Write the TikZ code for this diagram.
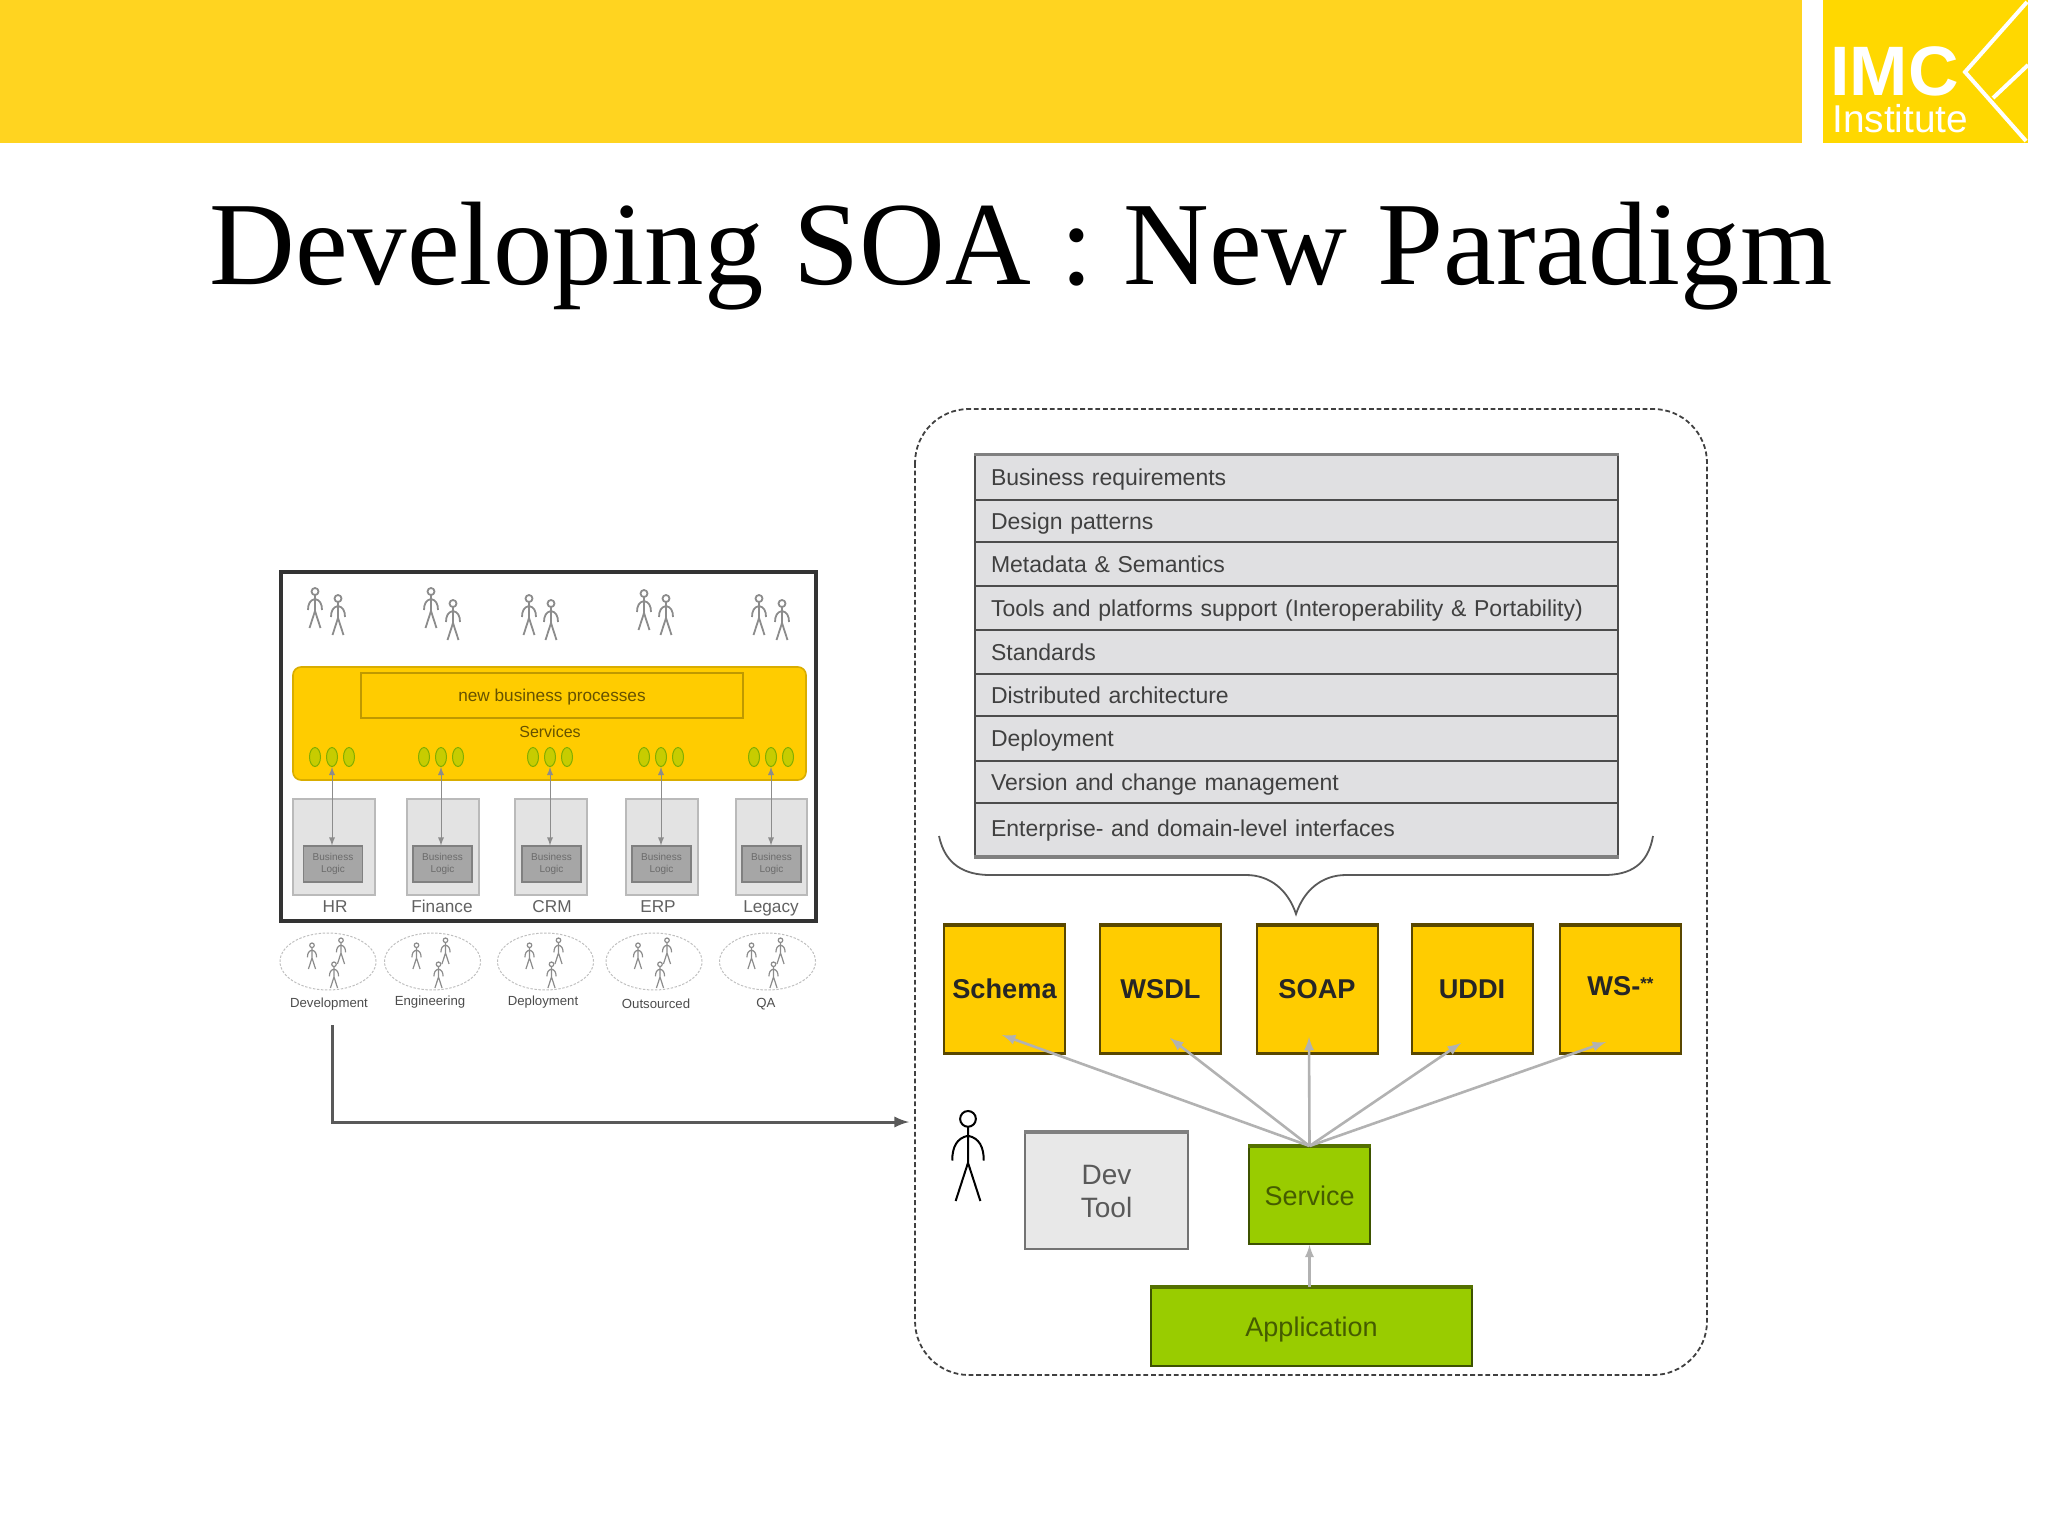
\documentclass[tikz,border=0pt]{standalone}
\usepackage{fontspec}
\usepackage{tikz}
\usetikzlibrary{shapes.geometric, arrows}
\setmainfont{Liberation Sans}
\newfontfamily\titlefont{Liberation Serif}
\newcommand{\fsz}[1]{\fontsize{#1}{#1}\selectfont}
\definecolor{bannery}{HTML}{FFD420}
\definecolor{logoy}{HTML}{FFD800}
\definecolor{servy}{HTML}{FFCC00}
\definecolor{appg}{HTML}{99CC00}
\definecolor{rowgray}{HTML}{E0E0E2}
\tikzset{
  box/.style={draw,rectangle,inner sep=0pt},
  wsbox/.style={box,fill=servy,draw=black!65!servy,line width=1pt,minimum width=60.5pt,minimum height=63.5pt,font=\fsz{13.6}\bfseries,text=black!85},
  greenbox/.style={box,fill=appg,draw=black!60!appg,line width=1pt,font=\fsz{13.5},text=black!55!appg},
  rowbox/.style={box,fill=rowgray,draw=black!70,line width=.9pt,minimum width=321.5pt,text width=305.5pt,inner xsep=8pt,align=left,font=\fsz{11.5},text=black!75},
  sysbox/.style={box,fill=black!11,draw=black!27,line width=.8pt,minimum height=48pt},
  logicbox/.style={box,fill=black!35,draw=black!50,line width=.6pt,minimum width=29.5pt,minimum height=18pt,align=center,font=\fsz{5},text=black!58},
  oval/.style={draw=appg!85!black,fill=appg!55!servy,ellipse,inner sep=0pt,line width=.5pt,minimum width=5.5pt,minimum height=9.5pt},
  teamoval/.style={draw=black!25,ellipse,dashed,dash pattern=on 1.2pt off .8pt,line width=.5pt,inner sep=0pt,minimum width=48pt,minimum height=28.5pt},
  sysname/.style={anchor=base,inner sep=0pt,font=\fsz{8.6},text=black!62},
  teamname/.style={inner sep=0pt,font=\fsz{6.6},text=black!70},
  stickman/.pic={
    \draw (0,3.5) circle (3.5);
    \draw (0,7) -- (0,23) (-7,22) .. controls (-7,16) and (-5,12) .. (0,11) .. controls (5,12) and (7,16) .. (7,22) (-5.5,40) -- (0,23) -- (5.5,40);
  }
}
\begin{document}
\begin{tikzpicture}[x=.5pt,y=-.5pt]
\useasboundingbox (0,0) rectangle (2048,1536);
     \fill[bannery] (0,0) rectangle (1802,143);
     \fill[logoy] (1823,0) rectangle (2028,143);
     \node[anchor=base west,inner sep=0pt,text=white,font=\fsz{35}\bfseries](imc)  at (1830,96) {IMC};
     \node[anchor=base west,inner sep=0pt,text=white,font=\fsz{19.4}](institute)  at (1832,133) {Institute};
     \draw[white,line width=2pt] (2027,2) -- (1965,72) -- (2026,141) (2028,65) -- (1993,98);
     \node[anchor=base,inner sep=0pt,font=\titlefont\fsz{59.4}](title)  at (1021,284) {Developing SOA : New Paradigm};

     \draw[black!75,dash pattern=on 2.4pt off 1.4pt,line width=.9pt,rounded corners=27pt] (915,409) rectangle (1707,1375);

     \foreach \i/\yt/\yb/\dy/\txt in {1/455/500/-4.2pt/Business requirements,2/500/542/-4.2pt/Design patterns,3/542/586/-4.2pt/Metadata \& Semantics,4/586/630/-4.2pt/Tools and platforms support (Interoperability \& Portability),5/630/674/-4.2pt/Standards,6/674/716/-4.2pt/Distributed architecture,7/716/761/-4.2pt/Deployment,8/761/803/-4.2pt/Version and change management,9/803/856/-3.4pt/Enterprise- and domain-level interfaces}
       \node[rowbox,minimum height=(\yb-\yt)*.5pt](row\i)  at (1296.5,{(\yt+\yb)/2}) {\raisebox{\dy}[0pt][0pt]{\txt}};
     \draw[black!50,line width=1.6pt] (row1.north west) -- (row1.north east);
     \draw[black!50,line width=1.6pt] (row9.south west) -- (row9.south east);
     \draw[black!65,line width=.9pt] (939,836) .. controls (945,865) and (965,875) .. (990,875) -- (1246,875) .. controls (1270,875) and (1288,890) .. (1296,914) .. controls (1304,890) and (1322,875) .. (1346,875) -- (1604,875) .. controls (1630,875) and (1648,865) .. (1653,836);

     \node[wsbox](schema)  at (1004.5,989) {Schema};
     \node[wsbox](wsdl)  at (1160.5,989) {WSDL};
     \node[wsbox](soap)  at (1317,989) {SOAP};
     \node[wsbox](uddi)  at (1472,989) {UDDI};
     \node[wsbox](wsstar)  at (1620.5,989) {\raisebox{2.6pt}{WS-\raisebox{3pt}{\fsz{8.5}**}}};
     \foreach \b in {schema,wsdl,soap,uddi,wsstar}
       \draw[black!65!servy,line width=1.6pt] (\b.north west) -- (\b.north east) (\b.south west) -- (\b.south east);

     \node[box,fill=black!9,draw=black!55,line width=1pt,minimum width=81.5pt,minimum height=58pt,align=center,font=\fsz{14},text=black!65](devtool)  at (1106.5,1191) {Dev\\[2.5pt]Tool};
     \draw[black!50,line width=1.8pt] (devtool.north west) -- (devtool.north east);
     \node[greenbox,minimum width=60.5pt,minimum height=48.5pt](service)  at (1309.5,1195.5) {Service};
     \node[greenbox,text depth=0pt,minimum width=160.5pt,minimum height=39pt](application)  at (1311.5,1327) {Application};
     \draw[black!45!appg,line width=1.8pt] (service.north west) -- (service.north east);
     \draw[black!45!appg,line width=1.8pt] (application.north west) -- (application.north east);
     \pic[color=black,line width=1pt,scale=2.25] at (968,1111) {stickman};

     \coordinate (schematip) at (1002,1035);
     \coordinate (wsdltip) at (1170,1038);
     \coordinate (soaptip) at (1309,1037);
     \coordinate (udditip) at (1461,1043);
     \coordinate (wstip) at (1606,1042);
     \foreach \t in {schematip,wsdltip,soaptip,udditip,wstip}
       \draw[->,>=latex,black!30,line width=1.3pt] (service.north) -- (\t);
     \draw[->,>=latex,black!30,line width=1.1pt] (application.north -| service.north) -- (service.south);

     \node[box,draw=black!80,line width=1.6pt,minimum width=267.5pt,minimum height=174.5pt](frame)  at (548.5,746.5) {};
     \foreach \x/\y in {315/588,338/595,431/588,453/600,529/595,551/600,644/590,666/595,759/595,782/600}
       \pic[color=black!45,line width=.9pt] at (\x,\y) {stickman};

     \node[box,fill=servy,draw=black!15!servy,line width=.8pt,rounded corners=4pt,minimum width=256.5pt,minimum height=56.5pt](panel)  at (549.5,723.5) {};
     \node[box,draw=black!25!servy,line width=1pt,text depth=0pt,minimum width=191pt,minimum height=22.5pt,font=\fsz{8.6},text=black!60!servy](newproc)  at (552,695.5) {new business processes};
     \node[inner sep=0pt,font=\fsz{8},text=black!60!servy](services)  at (550,732) {Services};

     \foreach \i/\cx/\sx/\sw/\lx/\nx/\name in {1/332/334/82/333/335/HR,2/441/443/72/442.5/442/Finance,3/550/551/72/551.5/552/CRM,4/661/662/72/661.5/658/ERP,5/771/771.5/71/771.5/771/Legacy}{
       \node[oval](ovall\i)  at (\cx-17,757) {};
       \node[oval](ovalm\i)  at (\cx,757) {};
       \node[oval](ovalr\i)  at (\cx+17,757) {};
       \node[sysbox,minimum width=\sw*.5pt](sys\i)  at (\sx,847) {};
       \node[logicbox](logic\i)  at (\lx,864) {Business\\[.6pt]Logic};
       \node[sysname](sysname\i)  at (\nx,912.5) {\name};
       \draw[<->,>=latex,black!45,line width=.4pt] (ovalm\i.south) -- (ovalm\i.south |- logic\i.north);
     }

     \foreach \i/\xe/\xl/\yl/\name in {1/328/329/1004/Development,2/432.5/430/1002/Engineering,3/545.5/543/1002/Deployment,4/654/656/1004/Outsourced,5/767.5/766/1004/QA}{
       \node[teamoval](team\i)  at (\xe,961.5) {};
       \node[teamname](teamname\i)  at (\xl,\yl) {\name};
       \pic[color=black!45,line width=.6pt,scale=.65] at (\xe-16,943) {stickman};
       \pic[color=black!45,line width=.6pt,scale=.65] at (\xe+13,938) {stickman};
       \pic[color=black!45,line width=.6pt,scale=.65] at (\xe+6,962) {stickman};
     }

     \coordinate (devstart) at (332,1025);
     \coordinate (devend) at (909,1122);
     \draw[->,>=latex,black!65,line width=1.5pt] (devstart) |- (devend);
\end{tikzpicture}
\end{document}
